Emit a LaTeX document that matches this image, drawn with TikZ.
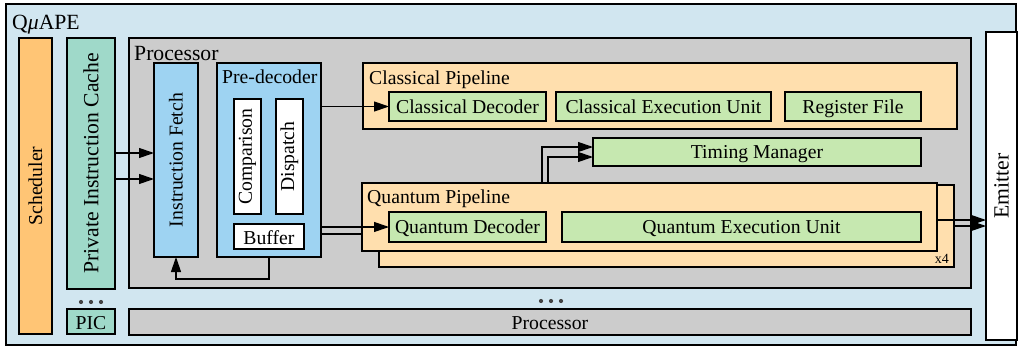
\documentclass[tikz,border=0pt]{standalone}
\usepackage{fontspec}
\setmainfont{Liberation Serif}
\usetikzlibrary{calc,arrows.meta}

\definecolor{quapebg}{HTML}{D1E6F0}
\definecolor{schedfill}{HTML}{FFC575}
\definecolor{cachefill}{HTML}{9FD9C9}
\definecolor{procfill}{HTML}{CCCCCC}
\definecolor{frontfill}{HTML}{9ED3F2}
\definecolor{pipefill}{HTML}{FFDFAE}
\definecolor{unitfill}{HTML}{C6E8B0}
\definecolor{dotgray}{HTML}{444444}

\begin{document}
\begin{tikzpicture}[x=1pt,y=-1pt,
  box/.style={draw=black, line width=1.2pt, inner sep=0pt, outer sep=0pt,
    font=\fontsize{19.7}{22}\selectfont, text height=13pt, text depth=0pt},
  lowtext/.style={text height=15pt},
  bigtext/.style={font=\fontsize{21.7}{24}\selectfont, inner sep=0pt},
  smalltext/.style={font=\fontsize{19.7}{22}\selectfont, inner sep=0pt},
  tinytext/.style={font=\fontsize{14}{16}\selectfont, inner sep=0pt},
  unit/.style={box, fill=unitfill},
  pipe/.style={box, fill=pipefill},
  link/.style={line width=1.2pt},
  arr/.style={line width=1.2pt, -{Triangle[length=15pt,width=10pt]}},
]
\useasboundingbox (0,0) rectangle (1018,348);

% top-level accelerator frame
\node[box, fill=quapebg, minimum width=1010pt, minimum height=341pt] (quape) at (511,174.5) {};
\node[bigtext, anchor=base west] (quapelabel) at (12,29) {Q{\itshape μ}APE};

% scheduler and instruction caches
\node[box, fill=schedfill, minimum width=33pt, minimum height=296pt] (sched) at (35.5,186) {};
\node[smalltext, rotate=90] (schedlabel) at (sched.center) {Scheduler};
\node[box, fill=cachefill, minimum width=48pt, minimum height=251pt] (pic) at (91,163.5) {};
\node[bigtext, rotate=90] (piclabel) at (pic.center) {Private Instruction Cache};
\node[box, lowtext, fill=cachefill, minimum width=48pt, minimum height=25pt] (picsmall) at (91,321.5) {PIC};

% processor
\node[box, fill=procfill, minimum width=842pt, minimum height=250pt] (proc) at (550,163) {};
\node[bigtext, anchor=base west] (proclabel) at (134,60) {Processor};
\node[box, lowtext, fill=procfill, minimum width=842pt, minimum height=26pt] (procsmall) at (550,322) {Processor};

% front end
\node[box, fill=frontfill, minimum width=44pt, minimum height=194pt] (ifetch) at (176,160) {};
\node[smalltext, rotate=90] (ifetchlabel) at (ifetch.center) {Instruction Fetch};
\node[box, fill=frontfill, minimum width=104pt, minimum height=194pt] (predec) at (269,160) {};
\node[smalltext, anchor=base west] (predeclabel) at (222,83) {Pre-decoder};
\node[box, fill=white, minimum width=27pt, minimum height=115pt] (cmp) at (247.5,156.5) {};
\node[smalltext, rotate=90] (cmplabel) at (cmp.center) {Comparison};
\node[box, fill=white, minimum width=27pt, minimum height=115pt] (disp) at (289.5,156.5) {};
\node[smalltext, rotate=90] (displabel) at (disp.center) {Dispatch};
\node[box, lowtext, fill=white, minimum width=70pt, minimum height=25pt] (buffer) at (269,236.5) {Buffer};

% classical pipeline
\node[pipe, minimum width=594pt, minimum height=66pt] (cpipe) at (660,96) {};
\node[smalltext, anchor=base west] (cpipelabel) at (369,84) {Classical Pipeline};
\node[unit, minimum width=157pt, minimum height=29pt] (cdec) at (467.5,106.5) {Classical Decoder};
\node[unit, minimum width=215pt, minimum height=29pt] (cexec) at (663.5,106.5) {Classical Execution Unit};
\node[unit, minimum width=136pt, minimum height=29pt] (regfile) at (853,106.5) {Register File};

% timing
\node[unit, minimum width=328pt, minimum height=28pt] (timing) at (757,152) {Timing Manager};

% quantum pipelines (four copies)
\node[pipe, minimum width=575pt, minimum height=82pt] (qpipeback) at (666.5,226) {};
\node[tinytext, anchor=base east] (copies) at (949,263) {x4};
\node[pipe, minimum width=575pt, minimum height=68pt] (qpipe) at (649.5,217) {};
\node[smalltext, anchor=base west] (qpipelabel) at (367,203) {Quantum Pipeline};
\node[unit, minimum width=157pt, minimum height=30pt] (qdec) at (467.5,227) {Quantum Decoder};
\node[unit, minimum width=359pt, minimum height=30pt] (qexec) at (741.5,227) {Quantum Execution Unit};

% emitter
\node[box, fill=white, minimum width=31pt, minimum height=308pt] (emitter) at (1001.5,186) {};
\node[bigtext, rotate=90] (emitterlabel) at (emitter.center) {Emitter};

% more caches and processors
\foreach \dx in {-10,0,10} {
  \fill[dotgray] ($(picsmall.north)+(\dx,-7)$) circle (2.1pt);
  \fill[dotgray] ($(procsmall.north)+(\dx+1,-8)$) circle (2.1pt);
}

% cache to instruction fetch
\coordinate (c1) at ($(pic.east)+(0,-10.5)$);
\coordinate (c2) at ($(pic.east)+(0,15.5)$);
\draw[arr] (c1) -- (c1 -| ifetch.west);
\draw[arr] (c2) -- (c2 -| ifetch.west);

% buffer feedback to instruction fetch
\draw[arr] (buffer.south |- predec.south) -- ++(0,22) -| (ifetch.south);

% pre-decoder to pipelines
\draw[arr] (predec.east |- cdec.west) -- (cdec.west);
\draw[arr] (predec.east |- qdec.west) -- (qdec.west);
\coordinate (q2) at ($(qdec.west)+(0,7)$);
\draw[link] (predec.east |- q2) -- (qpipe.west |- q2);

% quantum pipelines to timing manager
\coordinate (t1) at ($(timing.west)+(0,-5)$);
\coordinate (t2) at ($(timing.west)+(0,5)$);
\coordinate (u1) at ($(qpipe.north west)+(180,0)$);
\coordinate (u2) at ($(qpipe.north west)+(186,0)$);
\draw[arr] (u1) |- (t1);
\draw[arr] (u2) |- (t2);

% quantum pipelines to emitter
\coordinate (e1) at ($(qpipe.east)+(0,3)$);
\draw[arr] (e1) -- (e1 -| emitter.west);
\draw[arr] (qpipeback.east) -- (qpipeback.east -| emitter.west);
\end{tikzpicture}
\end{document}
